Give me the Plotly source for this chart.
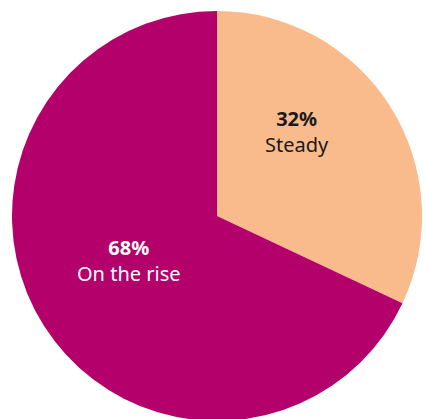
import plotly.graph_objects as go

# Share of respondents by outlook
labels = ["Steady", "On the rise"]
values = [32, 68]
colors = ["#F9BB8B", "#B4006A"]
text_colors = ["#1A1A1A", "#FFFFFF"]
# label anchor points in pixels (x, y from top)
label_pos = [(297, 131), (129, 260)]

W, H = 425, 423
cx, cy, r = 217, 216, 205

fig = go.Figure(go.Pie(
    labels=labels,
    values=values,
    sort=False,
    direction="clockwise",
    rotation=0,
    marker=dict(colors=colors, line=dict(width=0)),
    textinfo="none",
    hoverinfo="label+percent",
    showlegend=False,
    domain=dict(x=[(cx - r) / W, (cx + r) / W],
                y=[(H - cy - r) / H, (H - cy + r) / H]),
))

for lab, val, tc, (px, py) in zip(labels, values, text_colors, label_pos):
    fig.add_annotation(
        x=px / W, y=(H - py) / H, xref="paper", yref="paper",
        xanchor="center", yanchor="middle",
        text=f"<b>{val}%</b><br>{lab}",
        showarrow=False, align="center",
        font=dict(family="Noto Sans", size=20, color=tc),
    )

fig.update_layout(
    width=W, height=H,
    margin=dict(l=0, r=0, t=0, b=0),
    paper_bgcolor="white",
    plot_bgcolor="white",
)

fig.write_html(
    "out.html",
    config={"displayModeBar": False},
    post_script="document.documentElement.style.overflow='hidden';document.body.style.overflow='hidden';document.body.style.margin='0';",
)
